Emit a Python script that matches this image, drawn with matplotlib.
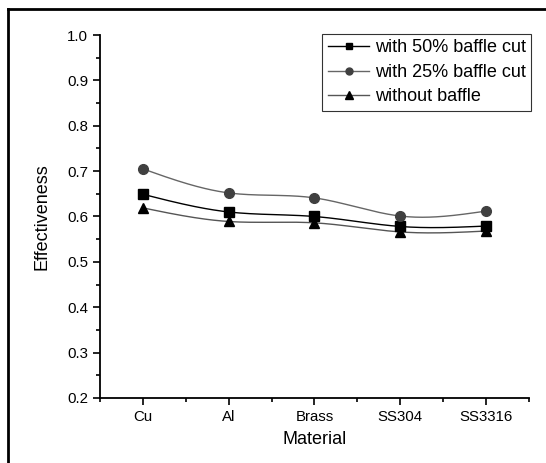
import matplotlib.pyplot as plt
import numpy as np
from matplotlib.lines import Line2D

materials = ["Cu", "Al", "Brass", "SS304", "SS3316"]
baffle_50 = [0.649, 0.610, 0.600, 0.578, 0.579]
baffle_25 = [0.705, 0.652, 0.641, 0.601, 0.612]
no_baffle = [0.619, 0.589, 0.586, 0.566, 0.568]


def smooth(x, y, n=200):
    # natural cubic spline through the points, for the curved connecting line
    x = np.asarray(x, float)
    y = np.asarray(y, float)
    k = len(x)
    h = np.diff(x)
    A = np.zeros((k, k))
    b = np.zeros(k)
    A[0, 0] = A[-1, -1] = 1
    for i in range(1, k - 1):
        A[i, i - 1] = h[i - 1]
        A[i, i] = 2 * (h[i - 1] + h[i])
        A[i, i + 1] = h[i]
        b[i] = 6 * ((y[i + 1] - y[i]) / h[i] - (y[i] - y[i - 1]) / h[i - 1])
    M = np.linalg.solve(A, b)
    xs = np.linspace(x[0], x[-1], n)
    idx = np.clip(np.searchsorted(x, xs) - 1, 0, k - 2)
    x0, x1 = x[idx], x[idx + 1]
    hh = x1 - x0
    t1 = x1 - xs
    t0 = xs - x0
    ys = (M[idx] * t1**3 + M[idx + 1] * t0**3) / (6 * hh) \
        + (y[idx] / hh - M[idx] * hh / 6) * t1 \
        + (y[idx + 1] / hh - M[idx + 1] * hh / 6) * t0
    return xs, ys


plt.rcParams["font.family"] = ["Liberation Sans", "DejaVu Sans"]

fig = plt.figure(figsize=(5.46, 4.63), dpi=100)
ax = fig.add_axes([0.183, 0.1404, 0.786, 0.784])

x = np.arange(len(materials))
series = [
    (baffle_50, "with 50% baffle cut", "s", "black", "black", 6.5),
    (baffle_25, "with 25% baffle cut", "o", "#666666", "#404040", 7),
    (no_baffle, "without baffle", "^", "#555555", "black", 7.5),
]
handles = []
for vals, label, mk, lc, mc, ms in series:
    xs, ys = smooth(x, vals)
    ax.plot(xs, ys, color=lc, lw=1.0, zorder=2)
    ax.plot(x, vals, linestyle="none", marker=mk, color=mc, ms=ms, zorder=3)
    handles.append(Line2D([], [], color=lc, lw=1.0, marker=mk, mfc=mc, mec=mc, ms=ms - 2))

ax.set_xlim(-0.5, 4.5)
ax.set_ylim(0.2, 1.0)
ax.set_xticks(x)
ax.set_xticklabels(materials)
ax.set_xticks(np.arange(-0.5, 4.6, 1.0), minor=True)
ax.set_yticks(np.arange(0.2, 1.01, 0.1))
ax.set_yticks(np.arange(0.25, 1.0, 0.1), minor=True)
ax.yaxis.set_major_formatter(plt.FormatStrFormatter("%.1f"))
ax.spines["top"].set_visible(False)
ax.spines["right"].set_visible(False)
for s in ("left", "bottom"):
    ax.spines[s].set_linewidth(1.3)
ax.tick_params(which="major", direction="out", length=5, width=1.2, labelsize=10.8, colors="black")
ax.tick_params(which="minor", direction="out", length=3, width=1.2)
ax.set_xlabel("Material", fontsize=13, labelpad=5)
ax.set_ylabel("Effectiveness", fontsize=13, labelpad=12)

leg = ax.legend(handles, [s[1] for s in series], loc="upper right",
                bbox_to_anchor=(1.005, 1.003), fontsize=13, frameon=True,
                fancybox=False, edgecolor="black", handlelength=2.3,
                handletextpad=0.3, borderpad=0.3, labelspacing=0.42,
                borderaxespad=0)
leg.get_frame().set_linewidth(0.8)

# outer frame of the figure (only top and left show in the crop)
fig.add_artist(Line2D([8 / 546, 1], [1 - 9 / 463, 1 - 9 / 463], transform=fig.transFigure, color="black", lw=2))
fig.add_artist(Line2D([8 / 546, 8 / 546], [0, 1 - 9 / 463], transform=fig.transFigure, color="black", lw=2))

fig.savefig("out.png", dpi=100)
